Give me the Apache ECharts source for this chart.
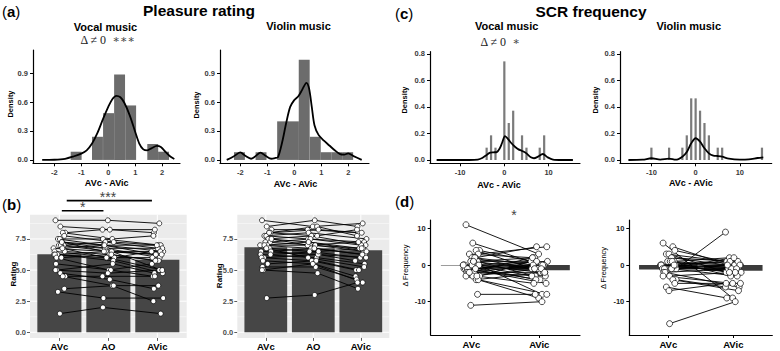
<!DOCTYPE html>
<html>
<head>
<meta charset="utf-8">
<script src="https://cdn.jsdelivr.net/npm/echarts@6.0.0/dist/echarts.min.js"></script>
<style>
html, body { margin: 0; padding: 0; background: #fff; }
#chart { width: 780px; height: 351px; }
</style>
</head>
<body>
<div id="chart"></div>
<script>
// (a) pleasure rating difference: histogram + density
var pleasureBinWidth = 0.405;
var pleasureVocalBins = [-1.19, -0.40, 0.01, 0.42, 0.83, 1.65, 2.05];
var pleasureVocalDensity = [0.085, 0.24, 0.485, 0.885, 0.565, 0.165, 0.085];
var pleasureViolinBins = [-2.03, -1.23, -0.43, -0.03, 0.37, 0.78, 1.18, 1.58, 1.98];
var pleasureViolinDensity = [0.08, 0.08, 0.40, 0.40, 1.04, 0.24, 0.08, 0.08, 0.08];

var pleasureVocalCurveX = [-2.45, -2.0, -1.6, -1.3, -1.0, -0.8, -0.6, -0.4, -0.2, 0.0, 0.15, 0.3, 0.45, 0.6, 0.8, 1.0, 1.15, 1.3, 1.45, 1.6, 1.8, 1.95, 2.1, 2.3, 2.45];
var pleasureVocalCurveY = [0.0, 0.002, 0.012, 0.035, 0.065, 0.1, 0.17, 0.28, 0.42, 0.55, 0.63, 0.665, 0.65, 0.59, 0.46, 0.29, 0.17, 0.11, 0.1, 0.12, 0.145, 0.135, 0.09, 0.035, 0.01];
var pleasureViolinCurveX = [-2.5, -2.25, -2.0, -1.8, -1.6, -1.45, -1.25, -1.05, -0.85, -0.7, -0.6, -0.45, -0.3, -0.15, 0.0, 0.15, 0.3, 0.45, 0.55, 0.65, 0.75, 0.9, 1.1, 1.3, 1.5, 1.7, 1.85, 2.0, 2.2, 2.5];
var pleasureViolinCurveY = [0.0, 0.035, 0.078, 0.04, 0.012, 0.035, 0.075, 0.04, 0.012, 0.02, 0.03, 0.18, 0.38, 0.55, 0.62, 0.66, 0.73, 0.8, 0.74, 0.55, 0.36, 0.26, 0.2, 0.15, 0.1, 0.06, 0.055, 0.068, 0.04, 0.0];

// (c) SCR frequency difference
var scrBinWidth = 0.5;
var scrVocalBins = [-4, -3, -2, 0, 1, 2, 4, 5, 8, 9];
var scrVocalDensity = [0.093, 0.186, 0.093, 0.744, 0.279, 0.372, 0.186, 0.093, 0.093, 0.186];
var scrViolinBins = [-10, -6, -3, -2, -1, 0, 1, 2, 3, 5, 6, 15];
var scrViolinDensity = [0.093, 0.093, 0.093, 0.186, 0.465, 0.465, 0.372, 0.279, 0.186, 0.093, 0.093, 0.093];

var scrVocalCurveX = [-15.3, -8, -6, -5, -4, -3.2, -2.5, -1.7, -1, -0.5, 0.15, 0.8, 1.5, 2.4, 3.2, 3.9, 5, 6, 6.7, 7.6, 8.7, 9.8, 11, 13, 15.5];
var scrVocalCurveY = [0, 0, 0.003, 0.015, 0.038, 0.055, 0.058, 0.06, 0.09, 0.13, 0.18, 0.16, 0.13, 0.10, 0.08, 0.07, 0.05, 0.02, 0.013, 0.025, 0.045, 0.02, 0.003, 0, 0];
var scrViolinCurveX = [-15.2, -12, -10, -8, -6, -4.5, -3, -2, -1, 0, 1, 2, 3, 4, 5, 6, 7.5, 10, 12, 14, 15.3];
var scrViolinCurveY = [0, 0.002, 0.013, 0.003, 0.01, 0.002, 0.025, 0.06, 0.126, 0.164, 0.138, 0.088, 0.05, 0.033, 0.03, 0.025, 0.01, 0.003, 0.005, 0.015, 0.02];

// (b) ratings per participant: [AVc, AO, AVic]
var ratingConditions = ['AVc', 'AO', 'AVic'];
var ratingVocalMeans = [6.27, 6.05, 5.83];
var ratingViolinMeans = [6.83, 6.75, 6.59];
var ratingVocal = [
    [9.0, 9.0, 8.75], [8.5, 8.25, 8.0], [8.0, 8.25, 8.25], [8.0, 7.5, 7.75],
    [7.75, 7.25, 7.0], [7.5, 7.0, 6.5], [7.5, 7.5, 7.0], [7.25, 6.75, 6.75],
    [7.25, 7.0, 6.25], [7.0, 7.25, 6.75], [7.0, 6.5, 6.5], [7.0, 6.75, 6.0],
    [6.75, 6.5, 6.25], [6.75, 7.0, 7.0], [6.5, 6.25, 5.75], [6.5, 6.0, 6.5],
    [6.25, 6.5, 5.0], [6.25, 5.75, 4.75], [6.25, 6.0, 6.0], [6.0, 5.0, 5.5],
    [6.0, 6.25, 5.75], [5.5, 5.0, 4.5], [5.0, 5.5, 4.75], [5.0, 4.75, 5.0],
    [4.75, 4.25, 3.5], [4.5, 4.5, 4.5], [4.5, 3.75, 2.5], [3.5, 3.75, 3.75],
    [3.25, 2.75, 2.75], [1.5, 2.0, 1.5], [6.75, 6.0, 5.0], [7.25, 6.5, 6.25]
];
var ratingViolin = [
    [9.0, 8.5, 8.75], [8.5, 9.0, 8.5], [8.25, 8.25, 8.0], [8.0, 8.5, 7.75],
    [8.0, 8.25, 8.0], [7.75, 8.0, 7.5], [7.75, 7.5, 7.25], [7.5, 7.75, 7.0],
    [7.5, 7.25, 6.75], [7.25, 7.5, 7.0], [7.25, 7.0, 6.5], [7.0, 7.0, 6.75],
    [7.0, 6.75, 6.25], [6.75, 6.5, 6.0], [6.5, 6.75, 6.25], [6.5, 6.25, 5.75],
    [6.25, 6.0, 5.5], [6.0, 6.25, 6.0], [6.0, 5.75, 5.0], [5.75, 5.5, 4.5],
    [5.5, 5.75, 5.0], [5.25, 5.25, 4.25], [5.0, 4.75, 3.5], [5.0, 5.5, 4.0],
    [2.75, 3.0, 4.0], [7.5, 7.0, 7.25], [8.0, 7.75, 8.25], [6.25, 6.5, 6.75],
    [7.0, 7.25, 6.5], [6.75, 6.0, 5.25]
];
var ratingSigFrom = [1.05, 1.15];
var ratingSigTo = [1.9, 2.89];
var ratingSigY = [9.77, 10.58];

// (d) delta frequency per participant: [AVc, AVic]
var freqConditions = ['AVc', 'AVic'];
var freqVocalMeans = [-0.08, -1.4];
var freqViolinMeans = [-1.2, -1.55];
var freqVocal = [
    [11, 3], [6, 0], [4, 1], [4, -2], [3, 5], [3, 2], [2, -1], [2, 5], [1, 1],
    [1, -3], [1, -8], [1, 2], [0, -1], [0, 0], [0, -2], [0, 1], [-1, 0], [-1, -5],
    [-1, -1], [-1, -4], [-2, -2], [-2, 0], [-2, -3], [-3, -9], [-3, -1], [-3, 1],
    [-4, -2], [-4, -8], [-2, 2], [0, -3], [-1, 1], [2, 0], [-8, -8], [-11, -10],
    [1, -1], [0, -4], [-3, -5]
];
var freqViolin = [
    [6, -9], [-16, -10], [-1, 9], [5, -1], [4, 0], [3, 1], [3, -2], [2, 1], [2, 0],
    [1, 2], [1, -1], [1, 0], [0, 1], [0, -1], [0, 0], [0, -2], [0, 1], [-1, 0],
    [-1, -1], [-1, 2], [-1, -3], [-2, -1], [-2, -6], [-3, -5], [-3, -2], [-4, -6],
    [-4, -7], [-5, -5], [-6, -9], [-7, -5], [1, -3], [-1, 0], [0, -2]
];

// horizontal offsets of the plotted points
var jitter = [-0.08, 0.05, -0.11, 0.02, 0.09, -0.04, 0.12, -0.01, -0.09, 0.07, 0.03, -0.06, 0.10, -0.12, 0.04, -0.03, 0.08, -0.07, 0.01, 0.11, -0.05, 0.06, -0.10];

var FONT = "'Liberation Sans', Arial, Helvetica, sans-serif";
var SERIF = "'Liberation Serif', 'DejaVu Serif', serif";

function fix1(v) { return Number(v).toFixed(1); }
function plain(v) { return String(v); }
function jit(i, k) { return jitter[(i * 3 + k * 7) % jitter.length]; }

function $ext(a, b) {
    for (var k in (b || {})) a[k] = b[k];
    return a;
}

function classicAxis(dim, idx, min, max, ticks, fmt, labelStyle) {
    var ax = {
        type: 'value', gridIndex: idx, min: min, max: max,
        axisLine: { show: true, onZero: false, lineStyle: { color: '#000', width: 1.2 } },
        axisTick: { show: true, length: 3, customValues: ticks, lineStyle: { color: '#000', width: 1 } },
        axisLabel: $ext({ customValues: ticks, formatter: fmt, margin: 5, fontSize: 7.5, fontWeight: 'bold',
            color: '#3a3a3a', fontFamily: FONT }, labelStyle),
        splitLine: { show: false }
    };
    if (dim === 'y') ax.position = 'left';
    return ax;
}

function grayAxis(dim, idx, min, max, ticks, fmt, labelStyle) {
    return {
        type: 'value', gridIndex: idx, min: min, max: max,
        axisLine: { show: false, onZero: false },
        axisTick: { show: true, length: 3, customValues: ticks, lineStyle: { color: '#333', width: 0.8 } },
        axisLabel: $ext({ customValues: ticks, formatter: fmt, margin: 4, fontSize: 7.5, fontWeight: 'bold',
            color: '#4d4d4d', fontFamily: FONT }, labelStyle),
        splitLine: { show: false }
    };
}

function rectSeries(idx, centers, heights, width, color, z) {
    return {
        type: 'custom', xAxisIndex: idx, yAxisIndex: idx, z: z, silent: true,
        data: centers.map(function(c, i) { return [c, heights[i]]; }),
        renderItem: function(params, api) {
            var c = api.value(0), h = api.value(1);
            var p0 = api.coord([c - width / 2, Math.max(h, 0)]);
            var p1 = api.coord([c + width / 2, Math.min(h, 0)]);
            return {
                type: 'rect',
                shape: { x: p0[0], y: p0[1], width: p1[0] - p0[0], height: Math.max(p1[1] - p0[1], 0.4) },
                style: { fill: color }
            };
        }
    };
}

function curveSeries(idx, xs, ys) {
    return {
        type: 'line', xAxisIndex: idx, yAxisIndex: idx, z: 3, silent: true,
        showSymbol: false, smooth: 0.3,
        data: xs.map(function(x, i) { return [x, ys[i]]; }),
        lineStyle: { color: '#000', width: 1.8 }
    };
}

function gridLines(idx, values, dir, width) {
    return {
        type: 'custom', xAxisIndex: idx, yAxisIndex: idx, z: 1, silent: true,
        data: values.map(function(v) { return [v, v]; }),
        renderItem: function(params, api) {
            var cs = params.coordSys;
            var v = api.value(0);
            if (dir === 'h') {
                var y = api.coord([1, v])[1];
                return { type: 'line', shape: { x1: cs.x, y1: y, x2: cs.x + cs.width, y2: y },
                    style: { stroke: '#fff', lineWidth: width } };
            }
            var x = api.coord([v, 0])[0];
            return { type: 'line', shape: { x1: x, y1: cs.y, x2: x, y2: cs.y + cs.height },
                style: { stroke: '#fff', lineWidth: width } };
        }
    };
}

function subjectSeries(idx, rows, lineWidth, symbolSize) {
    var n = rows[0].length;
    var dims = [];
    for (var d = 0; d < n; d++) { dims.push('x' + d); dims.push('y' + d); }
    var paths = rows.map(function(r, i) {
        var out = [];
        r.forEach(function(v, k) { out.push(k + 1 + jit(i, k)); out.push(v); });
        return out;
    });
    var points = [];
    rows.forEach(function(r, i) {
        r.forEach(function(v, k) { points.push([k + 1 + jit(i, k), v]); });
    });
    return [{
        type: 'custom', xAxisIndex: idx, yAxisIndex: idx, z: 3, silent: true,
        dimensions: dims, encode: { x: 0, y: 1 },
        data: paths,
        renderItem: function(params, api) {
            var pts = [];
            for (var k = 0; k < n; k++) pts.push(api.coord([api.value(2 * k), api.value(2 * k + 1)]));
            return { type: 'polyline', shape: { points: pts }, style: { stroke: '#000', lineWidth: lineWidth, fill: null } };
        }
    }, {
        type: 'scatter', xAxisIndex: idx, yAxisIndex: idx, z: 4, silent: true,
        symbol: 'circle', symbolSize: symbolSize, data: points,
        itemStyle: { color: '#fff', borderColor: '#000', borderWidth: 0.7, opacity: 1 }
    }];
}

function txt(x, y, text, size, weight, extra) {
    var el = {
        type: 'text', x: x, y: y, silent: true,
        style: { text: text, fontSize: size, fontWeight: weight, fontFamily: FONT, fill: '#000',
            align: 'center', verticalAlign: 'middle', textAlign: 'center', textVerticalAlign: 'middle' }
    };
    return $ext(el, extra);
}

function panelTag(x, y, letter) {
    return {
        type: 'text', x: x, y: y, silent: true,
        style: {
            text: '{p|(}{b|' + letter + '}{p|)}', fill: '#000', align: 'left', verticalAlign: 'middle',
            textAlign: 'left', textVerticalAlign: 'middle',
            rich: { p: { fontSize: 15, fontFamily: FONT, fill: '#000' }, b: { fontSize: 15, fontWeight: 'bold', fontFamily: FONT, fill: '#000' } }
        }
    };
}

function deltaText(x, y, stars) {
    return {
        type: 'text', x: x, y: y, silent: true,
        style: {
            text: '{m|Δ ≠ 0  }{s|' + stars + '}', fill: '#000', align: 'center', verticalAlign: 'middle',
            textAlign: 'center', textVerticalAlign: 'middle',
            rich: { m: { fontSize: 12, fontFamily: SERIF, fill: '#222' }, s: { fontSize: 11, fontFamily: "'DejaVu Serif', serif", fill: '#444' } }
        }
    };
}

var ratingFmt = function(v) { return ratingConditions[Math.round(v) - 1]; };
var freqFmt = function(v) { return freqConditions[Math.round(v) - 1]; };
var catLabel = { fontSize: 9.5, color: '#000', margin: 4 };

var grids = [
    { left: 33, top: 50, width: 147, height: 113.3 },
    { left: 220, top: 50, width: 149, height: 113.3 },
    { left: 430, top: 51.7, width: 150, height: 111.6 },
    { left: 620, top: 51.7, width: 151.7, height: 111.6 },
    { left: 30, top: 214.7, width: 156.7, height: 123.2, show: true, backgroundColor: '#ebebeb', borderWidth: 0 },
    { left: 237.3, top: 214.7, width: 152, height: 123.2, show: true, backgroundColor: '#ebebeb', borderWidth: 0 },
    { left: 430.7, top: 220, width: 149.3, height: 115 },
    { left: 629.3, top: 220, width: 143, height: 115 }
].map(function(g) { g.containLabel = false; g.outerBoundsMode = 'none'; return g; });

var xAxes = [
    classicAxis('x', 0, -2.79, 2.66, [-2, -1, 0, 1, 2], plain),
    classicAxis('x', 1, -2.75, 2.77, [-2, -1, 0, 1, 2], plain),
    classicAxis('x', 2, -16.8, 17.1, [-10, 0, 10], plain),
    classicAxis('x', 3, -17.1, 17.2, [-10, 0, 10], plain),
    grayAxis('x', 4, 0.4, 3.6, [1, 2, 3], ratingFmt, catLabel),
    grayAxis('x', 5, 0.4, 3.6, [1, 2, 3], ratingFmt, catLabel),
    classicAxis('x', 6, 0.4, 2.6, [1, 2], freqFmt, catLabel),
    classicAxis('x', 7, 0.4, 2.6, [1, 2], freqFmt, catLabel)
];
var yAxes = [
    classicAxis('y', 0, -0.035, 1.14, [0, 0.3, 0.6, 0.9], fix1),
    classicAxis('y', 1, -0.035, 1.14, [0, 0.3, 0.6, 0.9], fix1),
    classicAxis('y', 2, -0.025, 0.817, [0, 0.2, 0.4, 0.6, 0.8], fix1),
    classicAxis('y', 3, -0.025, 0.817, [0, 0.2, 0.4, 0.6, 0.8], fix1),
    grayAxis('y', 4, -0.45, 9.45, [0, 2.5, 5, 7.5], fix1),
    grayAxis('y', 5, -0.45, 9.45, [0, 2.5, 5, 7.5], fix1),
    classicAxis('y', 6, -19.1, 12.3, [-10, 0, 10], plain, { color: '#222' }),
    classicAxis('y', 7, -19.1, 12.3, [-10, 0, 10], plain, { color: '#222' })
];

var series = [
    rectSeries(0, pleasureVocalBins, pleasureVocalDensity, pleasureBinWidth, '#6c6c6c', 2),
    rectSeries(1, pleasureViolinBins, pleasureViolinDensity, pleasureBinWidth, '#6c6c6c', 2),
    rectSeries(2, scrVocalBins, scrVocalDensity, scrBinWidth, '#7b7b7b', 2),
    rectSeries(3, scrViolinBins, scrViolinDensity, scrBinWidth, '#7b7b7b', 2),
    curveSeries(0, pleasureVocalCurveX, pleasureVocalCurveY),
    curveSeries(1, pleasureViolinCurveX, pleasureViolinCurveY),
    curveSeries(2, scrVocalCurveX, scrVocalCurveY),
    curveSeries(3, scrViolinCurveX, scrViolinCurveY)
];

[4, 5].forEach(function(idx) {
    series.push(gridLines(idx, [1.25, 3.75, 6.25, 8.75], 'h', 0.5));
    series.push(gridLines(idx, [0, 2.5, 5, 7.5], 'h', 1));
    series.push(gridLines(idx, [1, 2, 3], 'v', 1));
});
series.push(rectSeries(4, [1, 2, 3], ratingVocalMeans, 0.9, '#464646', 2));
series.push(rectSeries(5, [1, 2, 3], ratingViolinMeans, 0.9, '#464646', 2));
series.push(rectSeries(6, [1, 2], freqVocalMeans, 0.9, '#3b3b3b', 2));
series.push(rectSeries(7, [1, 2], freqViolinMeans, 0.9, '#3b3b3b', 2));
series = series.concat(subjectSeries(4, ratingVocal, 0.9, 5));
series = series.concat(subjectSeries(5, ratingViolin, 0.9, 5));
series = series.concat(subjectSeries(6, freqVocal, 0.9, 6));
series = series.concat(subjectSeries(7, freqViolin, 0.9, 6));

ratingSigFrom.forEach(function(f, i) {
    series.push({
        type: 'line', xAxisIndex: 4, yAxisIndex: 4, clip: false, silent: true, showSymbol: false, z: 5,
        data: [[f, ratingSigY[i]], [ratingSigTo[i], ratingSigY[i]]],
        lineStyle: { color: '#000', width: 1.6 }
    });
});

var graphics = [
    txt(199, 10.5, 'Pleasure rating', 15.5, 'bold'),
    txt(591, 11, 'SCR frequency', 15.5, 'bold'),
    panelTag(2, 11.5, 'a'), panelTag(2, 204, 'b'), panelTag(395, 13.5, 'c'), panelTag(395, 201, 'd'),
    txt(105.5, 26.5, 'Vocal music', 11, 'bold'),
    txt(298.5, 25.5, 'Violin music', 11, 'bold'),
    txt(506.7, 26, 'Vocal music', 11, 'bold'),
    txt(688.7, 25.5, 'Violin music', 11, 'bold'),
    deltaText(107.5, 39.5, '∗∗∗'),
    deltaText(500, 41.5, '∗'),
    txt(106.7, 183.3, 'AVc - AVic', 9, 'bold'),
    txt(295.5, 183.5, 'AVc - AVic', 9, 'bold'),
    txt(499, 185, 'AVc - AVic', 9, 'bold'),
    txt(690.8, 183.3, 'AVc - AVic', 9, 'bold'),
    txt(10, 104, 'Density', 7.5, 'bold', { rotation: Math.PI / 2 }),
    txt(196.5, 105, 'Density', 7.5, 'bold', { rotation: Math.PI / 2 }),
    txt(404, 100, 'Density', 7.5, 'bold', { rotation: Math.PI / 2 }),
    txt(595.5, 100, 'Density', 7.5, 'bold', { rotation: Math.PI / 2 }),
    txt(13, 274, 'Rating', 8, 'bold', { rotation: Math.PI / 2 }),
    txt(219, 275.7, 'Rating', 8, 'bold', { rotation: Math.PI / 2 }),
    txt(405, 265.5, 'Δ Frequency', 7.5, 'normal', { rotation: Math.PI / 2 }),
    txt(603, 268, 'Δ Frequency', 7.5, 'normal', { rotation: Math.PI / 2 }),
    txt(82.7, 207, '*', 14, 'normal', {}),
    txt(108, 196.5, '***', 14, 'normal', {}),
    txt(514, 214.5, '*', 14, 'normal', {})
];
graphics.slice(-3).forEach(function(g) { g.style.fill = '#444'; });

var chart = echarts.init(document.getElementById('chart'), null, { renderer: 'svg' });
chart.setOption({
    animation: false,
    backgroundColor: '#fff',
    grid: grids,
    xAxis: xAxes,
    yAxis: yAxes,
    series: series,
    graphic: graphics
});
</script>
</body>
</html>
